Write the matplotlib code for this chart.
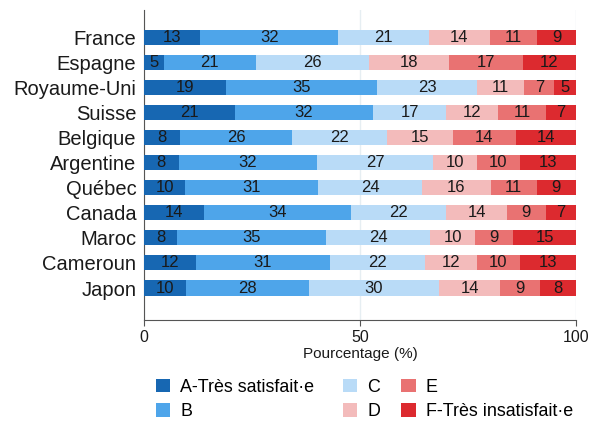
import matplotlib
matplotlib.use("Agg")
import matplotlib.pyplot as plt
import numpy as np

plt.rcParams['font.family'] = ['Liberation Sans', 'DejaVu Sans']

countries = ["France", "Espagne", "Royaume-Uni", "Suisse", "Belgique", "Argentine",
             "Québec", "Canada", "Maroc", "Cameroun", "Japon"]
cat_A = [13.0, 4.6, 19.0, 21.0, 8.3, 8.0, 9.6, 14.0, 7.6, 12.0, 9.8]
cat_B = [32.0, 21.3, 35.0, 32.0, 26.0, 32.0, 30.7, 34.0, 34.6, 31.0, 28.4]
cat_C = [21.0, 26.2, 23.0, 17.0, 21.9, 27.0, 24.0, 22.0, 24.1, 22.0, 30.0]
cat_D = [14.0, 18.4, 11.0, 12.0, 15.4, 10.0, 16.0, 14.0, 10.3, 12.0, 14.3]
cat_E = [11.0, 17.2, 7.0, 11.0, 14.4, 10.0, 10.6, 9.0, 8.8, 10.0, 9.1]
cat_F = [9.0, 12.3, 5.0, 7.0, 14.0, 13.0, 9.1, 7.0, 14.6, 13.0, 8.4]
series_labels = ["A-Très satisfait·e", "B", "C", "D", "E", "F-Très insatisfait·e"]
colors = ["#1767b2", "#4ea5ea", "#b9dbf7", "#f3bbbb", "#e97272", "#dc2a2f"]
xticks = [0, 50, 100]

fig = plt.figure(figsize=(5.89, 4.23), dpi=100)
ax = fig.add_axes([0.2445, 0.2435, 0.7335, 0.7325])

y = np.arange(len(countries))
left = np.zeros(len(countries))
handles = []
for vals, lab, col in zip([cat_A, cat_B, cat_C, cat_D, cat_E, cat_F], series_labels, colors):
    vals = np.array(vals, dtype=float)
    bars = ax.barh(y, vals, left=left, height=0.6, color=col, label=lab, zorder=3)
    handles.append(bars)
    for yi, l, v in zip(y, left, vals):
        ax.text(l + v / 2, yi, f"{int(np.floor(v + 0.5))}", ha="center", va="center",
                fontsize=12, color="#1a1a1a", zorder=4)
    left += vals

ax.set_xlim(0, 100)
ax.set_ylim(len(countries) - 1 + 1.275, -1.076)
ax.set_yticks(y)
ax.set_yticklabels(countries, fontsize=14.5, color="#1a1a1a")
ax.tick_params(axis="y", length=0, pad=5.5)
ax.set_xticks(xticks)
ax.set_xticklabels([str(t) for t in xticks], fontsize=11.5, color="#1a1a1a")
ax.tick_params(axis="x", length=4, color="#555555", pad=3)
ax.set_xlabel("Pourcentage (%)", fontsize=11, color="#1a1a1a", labelpad=1.5)
ax.xaxis.grid(True, color="#e6eef2", linewidth=1, zorder=0)
for s in ["top", "right"]:
    ax.spines[s].set_visible(False)
ax.spines["left"].set_color("#555555")
ax.spines["bottom"].set_color("#555555")

col_x = [0.2643, 0.582, 0.681]
for i, cx in enumerate(col_x):
    hs = handles[2 * i:2 * i + 2]
    ls = series_labels[2 * i:2 * i + 2]
    fig.legend(hs, ls, ncol=1, loc="center left", bbox_to_anchor=(cx, 0.0556),
               frameon=False, fontsize=12.9, handlelength=0.82, handleheight=0.82,
               handletextpad=0.55, labelspacing=0.42, borderpad=0, borderaxespad=0)

fig.savefig("out.png", dpi=100)
